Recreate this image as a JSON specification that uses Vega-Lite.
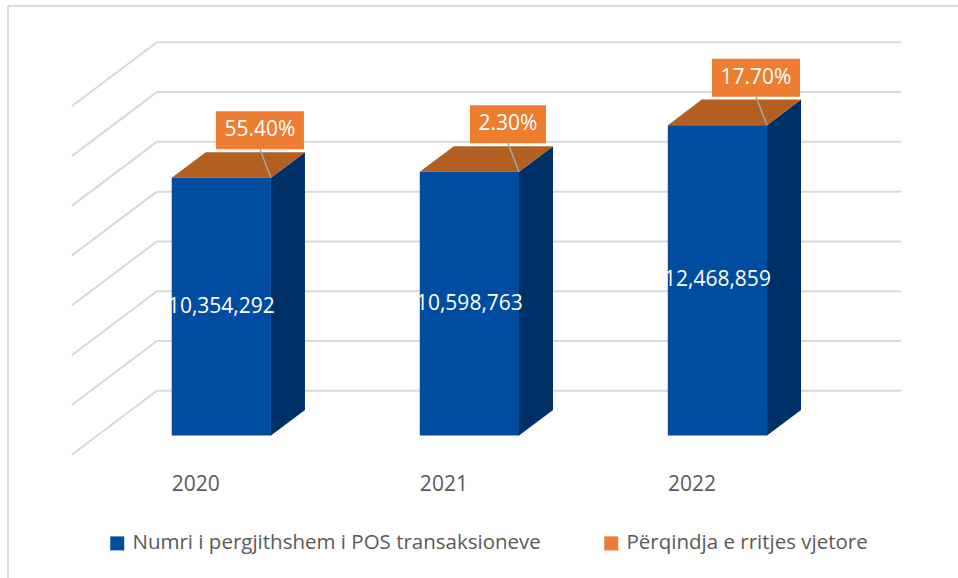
{
  "$schema": "https://vega.github.io/schema/vega-lite/v6.json",
  "width": 950,
  "height": 572,
  "padding": {"left": 8, "top": 6, "right": 0, "bottom": 0},
  "autosize": {"type": "none"},
  "background": "white",
  "config": {
    "view": {"stroke": "#D9D9D9", "strokeWidth": 2, "strokeDash": [950, 1522, 572, 0]},
    "font": "Open Sans",
    "legend": {
      "orient": "none", "legendX": 99, "legendY": 527, "direction": "horizontal",
      "title": null, "symbolType": "square", "symbolSize": 196, "symbolStrokeWidth": 0,
      "labelFont": "Open Sans", "labelFontSize": 20.5, "labelColor": "#595959",
      "labelOffset": 5, "columnPadding": 60, "padding": 0, "labelLimit": 600
    }
  },
  "datasets": {
    "main": [
      {"year": 2020, "value": 10354292, "growth": 0.554},
      {"year": 2021, "value": 10598763, "growth": 0.023},
      {"year": 2022, "value": 12468859, "growth": 0.177}
    ],
    "grid": [
      {"v": 0}, {"v": 2000000}, {"v": 4000000}, {"v": 6000000},
      {"v": 8000000}, {"v": 10000000}, {"v": 12000000}, {"v": 14000000}
    ]
  },
  "layer": [
    {
      "data": {"name": "grid"},
      "mark": {"type": "rule", "color": "#D9D9D9", "strokeWidth": 2},
      "encoding": {
        "x": {"datum": 2019.5, "type": "quantitative", "axis": null, "scale": {"domain": [2018.9, 2022.73], "nice": false, "zero": false}},
        "x2": {"datum": 2022.5},
        "y": {"field": "v", "type": "quantitative", "axis": null, "scale": {"domain": [-7520000, 15458000], "nice": false, "zero": false}}
      }
    },
    {
      "data": {"name": "grid"},
      "transform": [{"calculate": "datum.v - 2571000", "as": "v2"}],
      "mark": {"type": "rule", "color": "#D9D9D9", "strokeWidth": 2},
      "encoding": {
        "x": {"datum": 2019.5, "type": "quantitative", "axis": null, "scale": {"domain": [2018.9, 2022.73], "nice": false, "zero": false}},
        "x2": {"datum": 2019.1573},
        "y": {"field": "v", "type": "quantitative", "axis": null, "scale": {"domain": [-7520000, 15458000], "nice": false, "zero": false}},
        "y2": {"field": "v2"}
      }
    },
    {
      "data": {"name": "main"},
      "transform": [
        {"calculate": "[0.3, 0.7]", "as": "t"},
        {"flatten": ["t"]},
        {"calculate": "datum.year + 0.2 - 0.3427 * datum.t", "as": "sx"},
        {"calculate": "datum.value - 2571000 * datum.t", "as": "sy"},
        {"calculate": "-2571000 * datum.t", "as": "sy2"}
      ],
      "mark": {"type": "area", "color": "#003068", "opacity": 1, "orient": "vertical"},
      "encoding": {
        "x": {"field": "sx", "type": "quantitative", "axis": null, "scale": {"domain": [2018.9, 2022.73], "nice": false, "zero": false}},
        "y": {"field": "sy", "type": "quantitative", "axis": null, "stack": null, "scale": {"domain": [-7520000, 15458000], "nice": false, "zero": false}},
        "y2": {"field": "sy2"},
        "detail": {"field": "year", "type": "nominal"}
      }
    },
    {
      "data": {"name": "main"},
      "transform": [
        {"calculate": "[0.3, 0.7]", "as": "t"},
        {"flatten": ["t"]},
        {"calculate": "datum.year - 0.2 - 0.3427 * datum.t", "as": "tx"},
        {"calculate": "datum.year + 0.2 - 0.3427 * datum.t", "as": "tx2"},
        {"calculate": "datum.value - 2571000 * datum.t", "as": "ty"}
      ],
      "mark": {"type": "area", "color": "#B45F22", "opacity": 1, "orient": "horizontal"},
      "encoding": {
        "y": {"field": "ty", "type": "quantitative", "axis": null, "scale": {"domain": [-7520000, 15458000], "nice": false, "zero": false}},
        "x": {"field": "tx", "type": "quantitative", "axis": null, "stack": null, "scale": {"domain": [2018.9, 2022.73], "nice": false, "zero": false}},
        "x2": {"field": "tx2"},
        "detail": {"field": "year", "type": "nominal"}
      }
    },
    {
      "data": {"name": "main"},
      "transform": [
        {"calculate": "datum.year - 0.4399", "as": "fx"},
        {"calculate": "datum.year - 0.0399", "as": "fx2"},
        {"calculate": "datum.value - 1799700", "as": "fy"}
      ],
      "mark": {"type": "rect", "opacity": 1},
      "encoding": {
        "x": {"field": "fx", "type": "quantitative", "axis": null, "scale": {"domain": [2018.9, 2022.73], "nice": false, "zero": false}},
        "x2": {"field": "fx2"},
        "y": {"field": "fy", "type": "quantitative", "axis": null, "scale": {"domain": [-7520000, 15458000], "nice": false, "zero": false}},
        "y2": {"datum": -1799700},
        "color": {"datum": "Numri i pergjithshem i POS transaksioneve", "type": "nominal",
          "scale": {"domain": ["Numri i pergjithshem i POS transaksioneve", "Përqindja e rritjes vjetore"], "range": ["#004CA0", "#ED7D31"]}}
      }
    },
    {
      "data": {"name": "main"},
      "transform": [
        {"calculate": "datum.year - 0.2399", "as": "lx"},
        {"calculate": "datum.value / 2 - 1799700", "as": "ly"}
      ],
      "mark": {"type": "text", "color": "white", "font": "Open Sans", "fontSize": 21, "align": "center", "baseline": "middle"},
      "encoding": {
        "x": {"field": "lx", "type": "quantitative", "axis": null, "scale": {"domain": [2018.9, 2022.73], "nice": false, "zero": false}},
        "y": {"field": "ly", "type": "quantitative", "axis": null, "scale": {"domain": [-7520000, 15458000], "nice": false, "zero": false}},
        "text": {"field": "value", "type": "quantitative", "format": ","}
      }
    },
    {
      "data": {"name": "main"},
      "transform": [
        {"calculate": "datum.year - 0.0843", "as": "cx"},
        {"calculate": "datum.value + 108300 - 763000", "as": "cyb"},
        {"calculate": "datum.year - 0.0399", "as": "ex"},
        {"calculate": "datum.value - 1799700", "as": "ey"}
      ],
      "mark": {"type": "rule", "color": "#A6A6A6", "strokeWidth": 1.5},
      "encoding": {
        "x": {"field": "cx", "type": "quantitative", "axis": null, "scale": {"domain": [2018.9, 2022.73], "nice": false, "zero": false}},
        "x2": {"field": "ex"},
        "y": {"field": "cyb", "type": "quantitative", "axis": null, "scale": {"domain": [-7520000, 15458000], "nice": false, "zero": false}},
        "y2": {"field": "ey"}
      }
    },
    {
      "data": {"name": "main"},
      "transform": [
        {"calculate": "length(format(datum.growth, '.2%'))", "as": "len"},
        {"calculate": "datum.year - 0.0843 - (6 * datum.len + 8) / 248", "as": "bx"},
        {"calculate": "datum.year - 0.0843 + (6 * datum.len + 8) / 248", "as": "bx2"},
        {"calculate": "datum.value + 108300 - 763000", "as": "by"},
        {"calculate": "datum.value + 108300 + 763000", "as": "by2"}
      ],
      "mark": {"type": "rect", "opacity": 1},
      "encoding": {
        "x": {"field": "bx", "type": "quantitative", "axis": null, "scale": {"domain": [2018.9, 2022.73], "nice": false, "zero": false}},
        "x2": {"field": "bx2"},
        "y": {"field": "by", "type": "quantitative", "axis": null, "scale": {"domain": [-7520000, 15458000], "nice": false, "zero": false}},
        "y2": {"field": "by2"},
        "color": {"datum": "Përqindja e rritjes vjetore", "type": "nominal"}
      }
    },
    {
      "data": {"name": "main"},
      "transform": [
        {"calculate": "datum.year - 0.0843", "as": "cx"},
        {"calculate": "datum.value + 108300", "as": "cy"}
      ],
      "mark": {"type": "text", "color": "white", "font": "Open Sans", "fontSize": 21, "align": "center", "baseline": "middle"},
      "encoding": {
        "x": {"field": "cx", "type": "quantitative", "axis": null, "scale": {"domain": [2018.9, 2022.73], "nice": false, "zero": false}},
        "y": {"field": "cy", "type": "quantitative", "axis": null, "scale": {"domain": [-7520000, 15458000], "nice": false, "zero": false}},
        "text": {"field": "growth", "type": "quantitative", "format": ".2%"}
      }
    },
    {
      "data": {"name": "main"},
      "transform": [
        {"calculate": "datum.year - 0.3427", "as": "yx"}
      ],
      "mark": {"type": "text", "color": "#595959", "font": "Open Sans", "fontSize": 21, "align": "center", "baseline": "middle"},
      "encoding": {
        "x": {"field": "yx", "type": "quantitative", "axis": null, "scale": {"domain": [2018.9, 2022.73], "nice": false, "zero": false}},
        "y": {"datum": -3804000, "type": "quantitative", "axis": null, "scale": {"domain": [-7520000, 15458000], "nice": false, "zero": false}},
        "text": {"field": "year", "type": "nominal"}
      }
    }
  ]
}
